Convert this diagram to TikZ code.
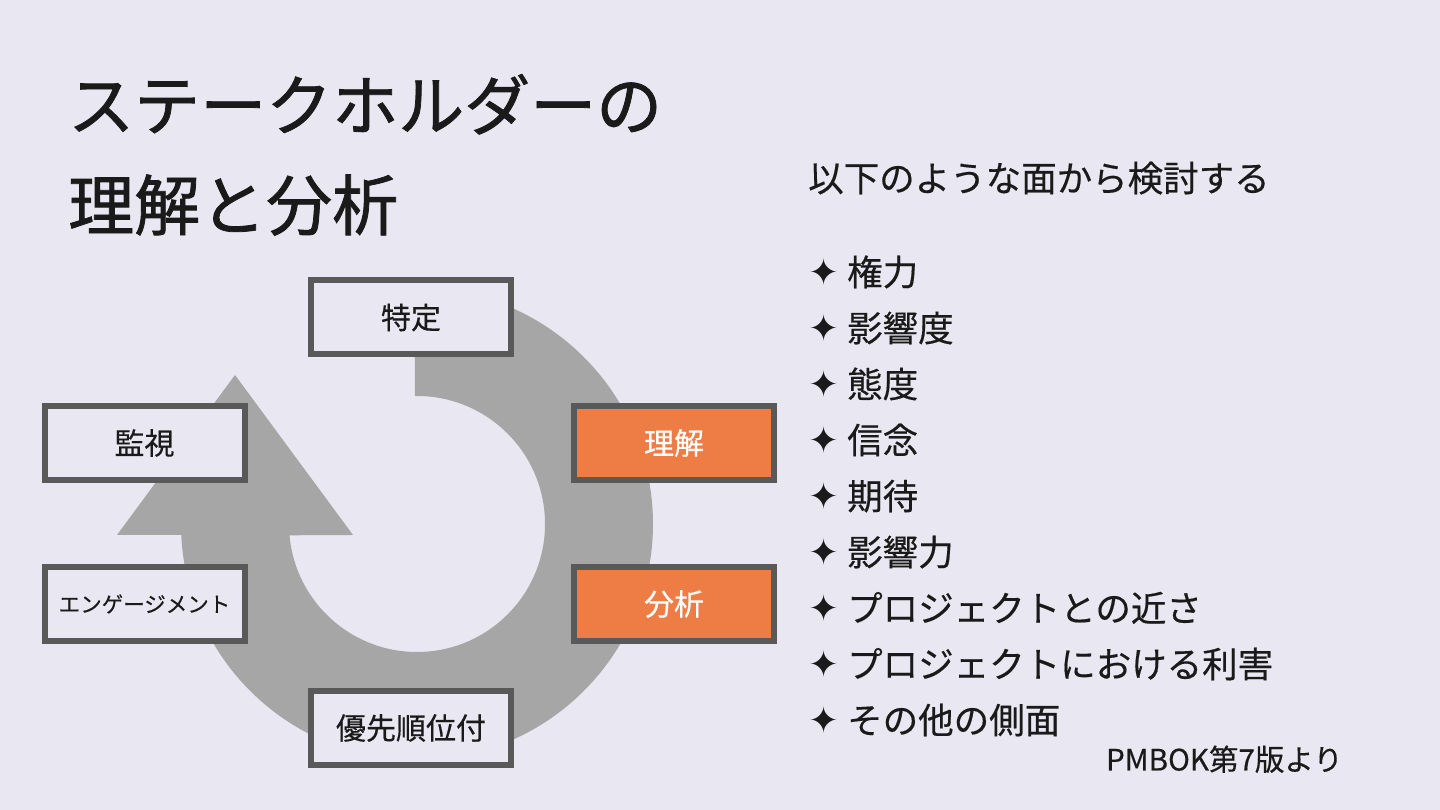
\documentclass[tikz,border=0pt]{standalone}
\usepackage{fontspec}
\setmainfont{Noto Sans CJK JP}
\newfontfamily\titlefont[FakeBold=1.2]{Noto Sans CJK JP}
\newfontfamily\bodyfont[FakeBold=0.4]{Noto Sans CJK JP}
\newfontfamily\symfont{DejaVu Sans}
\definecolor{bgcol}{HTML}{E9E8F2}
\definecolor{ringcol}{HTML}{A6A6A6}
\definecolor{boxline}{HTML}{595959}
\definecolor{orangecol}{HTML}{ED7D45}
\definecolor{ink}{HTML}{1A1A1A}
\tikzset{
  stagebox/.style={draw=boxline, line width=6pt, fill=bgcol, minimum width=200pt, minimum height=74pt, inner sep=0pt, text=ink, font=\bodyfont\fontsize{30}{34}\selectfont},
  hotbox/.style={stagebox, fill=orangecol, text=white},
  txt/.style={inner sep=0pt, anchor=base west, text=ink},
  itemtxt/.style={txt, font=\bodyfont\fontsize{35.5}{40}\selectfont},
}
\newcommand{\bul}{\makebox[39pt][l]{\raisebox{-0.5pt}{\symfont\fontsize{37}{40}\selectfont ✦}}}
\begin{document}
\begin{tikzpicture}[x=1pt,y=1pt]
\useasboundingbox (0,0) rectangle (1440,810);
\fill[bgcol] (0,0) rectangle (1440,810);
% title
\node[txt, font=\titlefont\fontsize{66}{80}\selectfont] (title1) at (68,680) {ステークホルダーの};
\node[txt, font=\titlefont\fontsize{66}{80}\selectfont] (title2) at (68,580) {理解と分析};
% cycle arrow
\coordinate (C) at (417,286);
\fill[ringcol] ([shift={(90.5:236)}]C) arc[start angle=90.5, end angle=-177.33, radius=236]
  -- (117,275) -- (235,435) -- (353,275)
  -- ([shift={(-174.93:128)}]C) arc[start angle=-174.93, end angle=90.9, radius=128] -- cycle;
% stage boxes
\node[stagebox] (tokutei) at (411,492.5) {特定};
\node[stagebox] (kanshi) at (144.5,367) {監視};
\node[stagebox, font=\bodyfont\fontsize{21.5}{26}\selectfont] (engage) at (144.5,206) {エンゲージメント};
\node[hotbox] (rikai) at (674,367) {理解};
\node[hotbox] (bunseki) at (674,206) {分析};
\node[stagebox] (yusen) at (411,82) {優先順位付};
% right text
\node[itemtxt] (head) at (808,618.5) {以下のような面から検討する};
\node[itemtxt] (i1) at (808,524.5) {\bul 権力};
\node[itemtxt] (i2) at (808,468.5) {\bul 影響度};
\node[itemtxt] (i3) at (808,412.5) {\bul 態度};
\node[itemtxt] (i4) at (808,356.5) {\bul 信念};
\node[itemtxt] (i5) at (808,300.5) {\bul 期待};
\node[itemtxt] (i6) at (808,244.5) {\bul 影響力};
\node[itemtxt] (i7) at (808,188.5) {\bul プロジェクトとの近さ};
\node[itemtxt] (i8) at (808,132.5) {\bul プロジェクトにおける利害};
\node[itemtxt] (i9) at (808,76.5) {\bul その他の側面};
\node[inner sep=0pt, anchor=base east, text=ink, font=\bodyfont\fontsize{29.5}{34}\selectfont] (src) at (1343,39.5) {PMBOK第7版より};
\end{tikzpicture}
\end{document}
